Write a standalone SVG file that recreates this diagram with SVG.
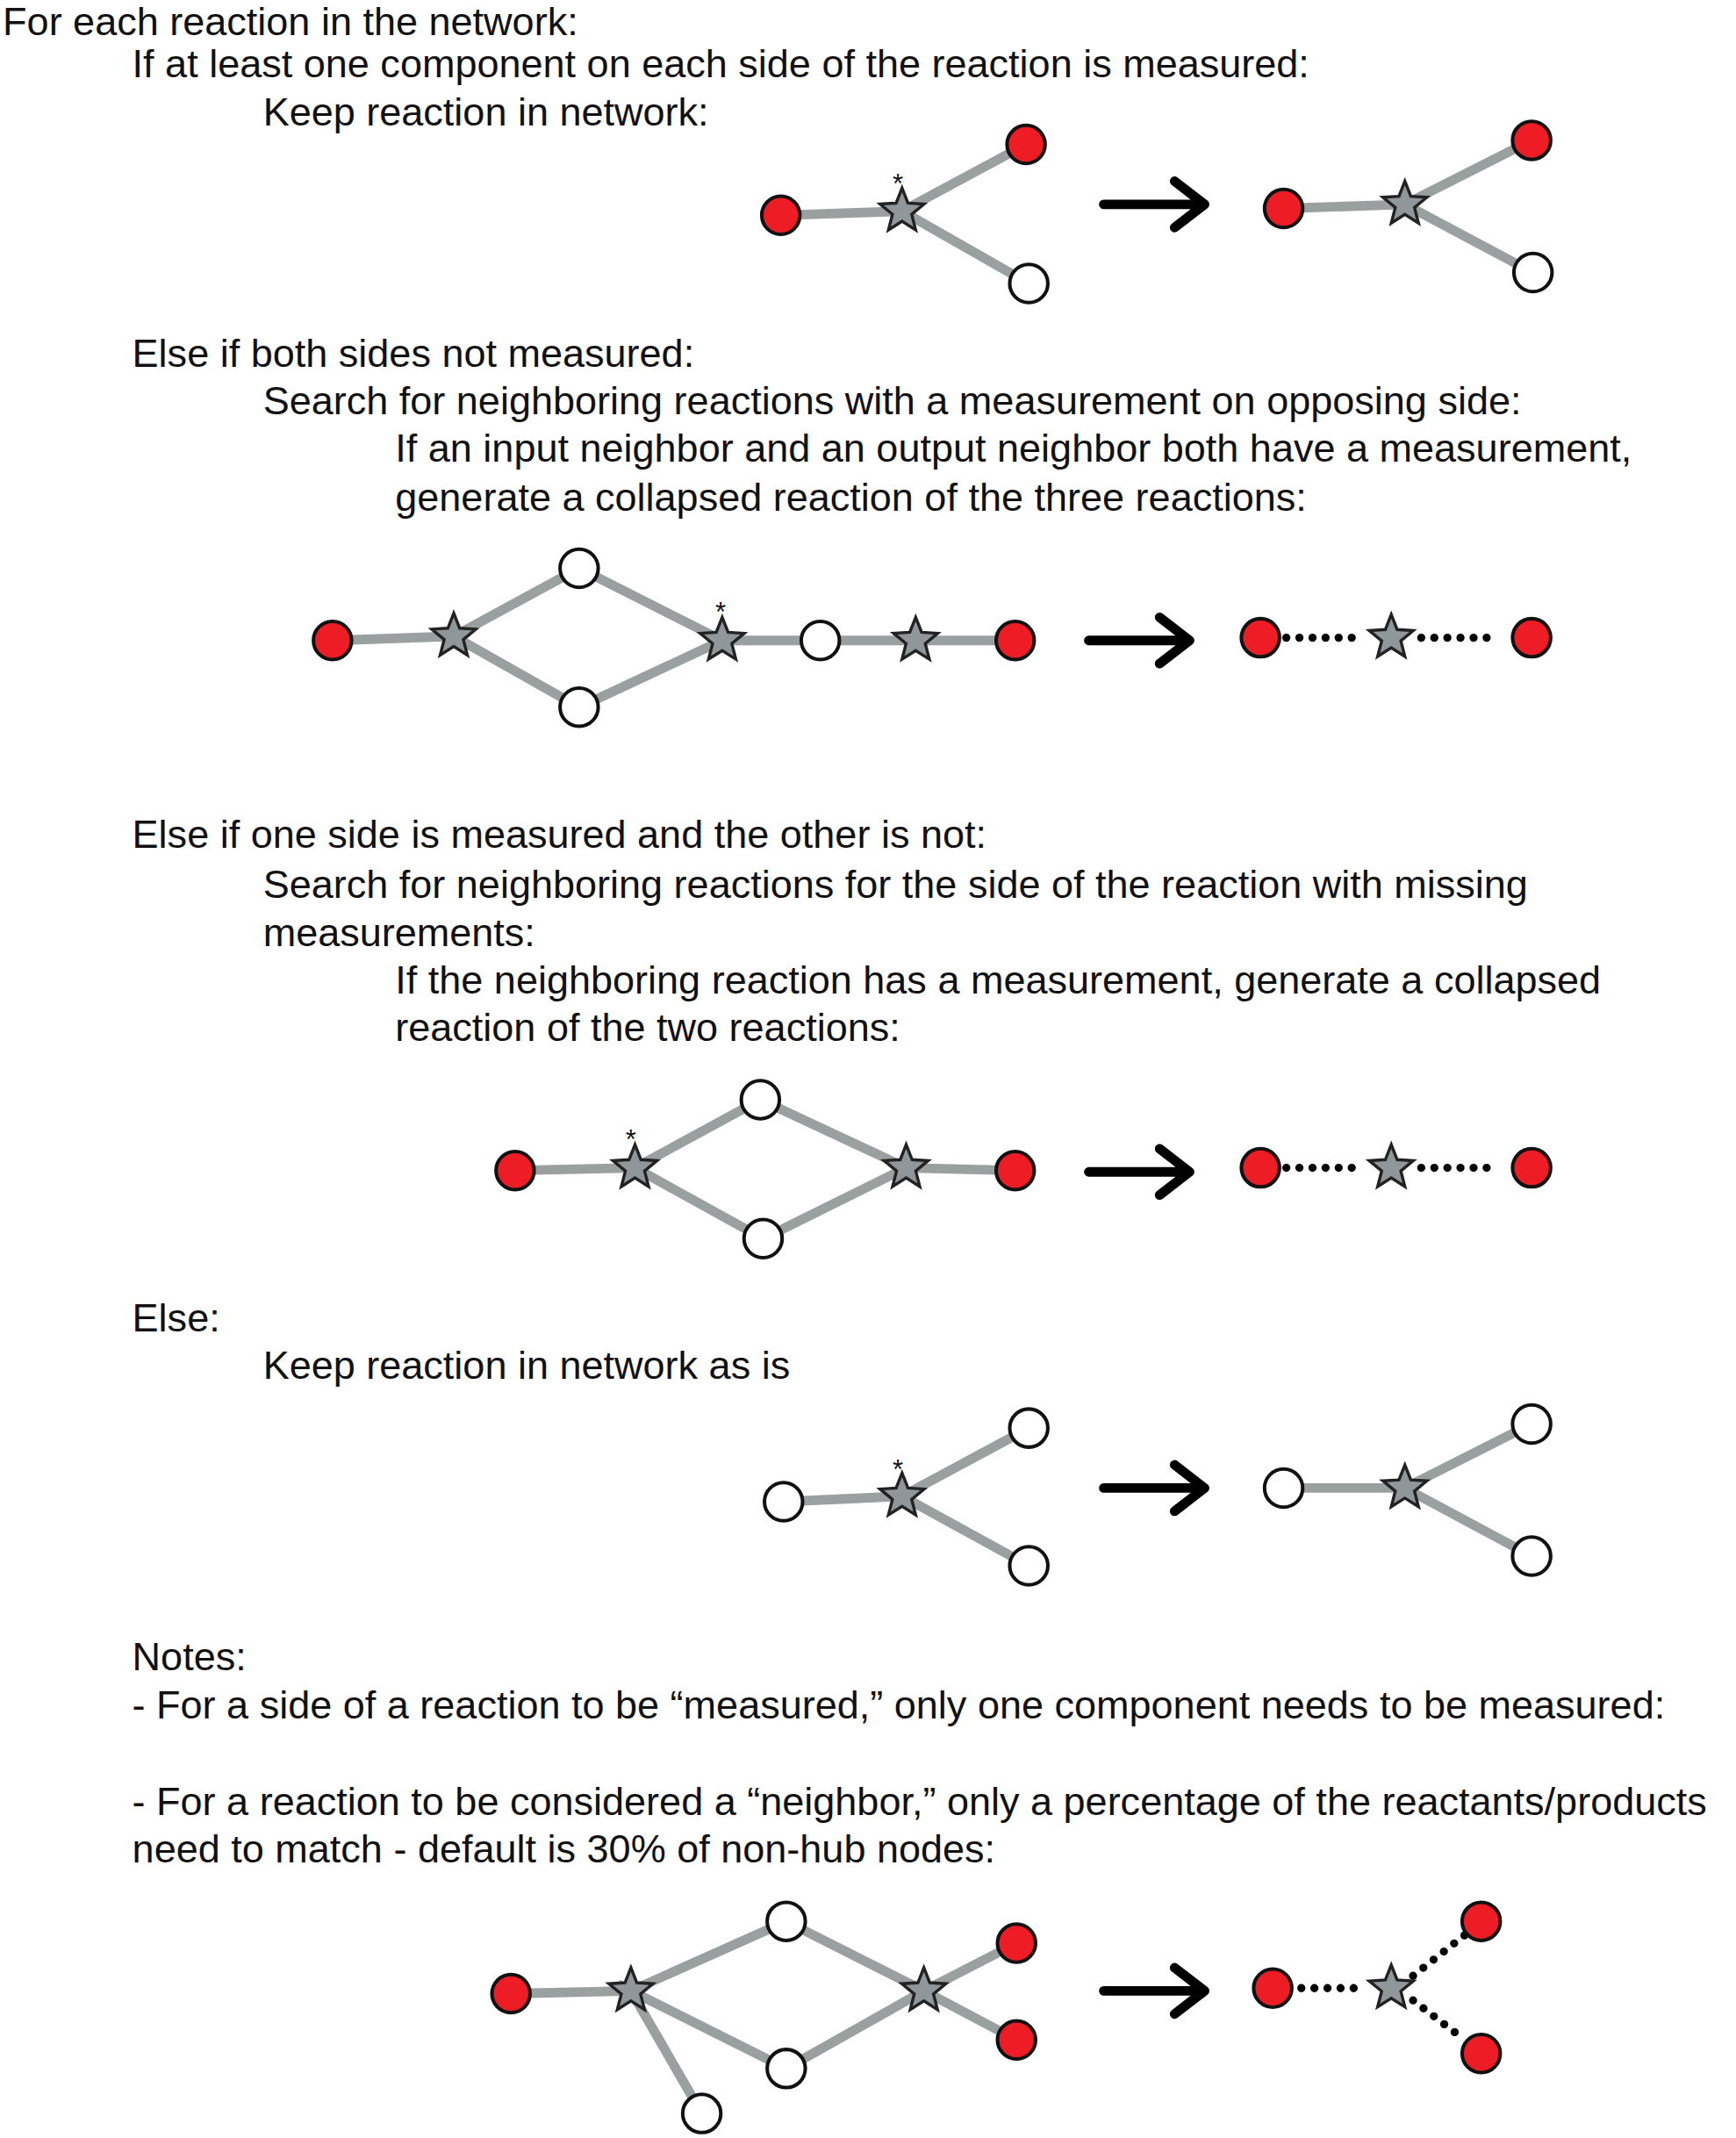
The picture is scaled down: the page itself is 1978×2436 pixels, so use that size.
<svg xmlns="http://www.w3.org/2000/svg" width="1978" height="2436" viewBox="0 0 1978 2436">
<defs>
<style>
text{font-family:"Liberation Sans",Arial,sans-serif;font-size:29px;fill:#111}
.e{stroke:#9a9fa0;stroke-width:7;fill:none}
.d{stroke:#000;stroke-width:6;stroke-linecap:round;stroke-dasharray:0 9.6;fill:none}
.r{fill:#ee1c25;stroke:#111;stroke-width:2.6}
.w{fill:#fff;stroke:#111;stroke-width:2.6}
.s{fill:#8f979b;stroke:#222;stroke-width:2.2;stroke-linejoin:miter}
.a{stroke:#000;stroke-width:7;fill:none;stroke-linecap:round;stroke-linejoin:round}
.ast{font-size:20px}
</style>
<path id="st" d="M0,-17 L4.35,-5.99 L16.17,-5.25 L7.04,2.29 L9.99,13.75 L0,7.4 L-9.99,13.75 L-7.04,2.29 L-16.17,-5.25 L-4.35,-5.99 Z"/>
</defs>
<rect width="1978" height="2436" fill="#fff"/>
<g transform="scale(1.5526)">
<g id="texts">
<text x="2" y="26">For each reaction in the network:</text>
<text x="97" y="57">If at least one component on each side of the reaction is measured:</text>
<text x="193" y="92">Keep reaction in network:</text>
<text x="97" y="269">Else if both sides not measured:</text>
<text x="193" y="304">Search for neighboring reactions with a measurement on opposing side:</text>
<text x="290" y="339">If an input neighbor and an output neighbor both have a measurement,</text>
<text x="290" y="375">generate a collapsed reaction of the three reactions:</text>
<text x="97" y="622">Else if one side is measured and the other is not:</text>
<text x="193" y="659">Search for neighboring reactions for the side of the reaction with missing</text>
<text x="193" y="694">measurements:</text>
<text x="290" y="729">If the neighboring reaction has a measurement, generate a collapsed</text>
<text x="290" y="764">reaction of the two reactions:</text>
<text x="97" y="977">Else:</text>
<text x="193" y="1012">Keep reaction in network as is</text>
<text x="97" y="1226">Notes:</text>
<text x="97" y="1261">- For a side of a reaction to be “measured,” only one component needs to be measured:</text>
<text x="97" y="1332">- For a reaction to be considered a “neighbor,” only a percentage of the reactants/products</text>
<text x="97" y="1367">need to match - default is 30% of non-hub nodes:</text>
</g>
<g id="connectors">
<path class="e" d="M573,158 L662,155 L753,106 M662,155 L755,208"/>
<path class="e" d="M942,153 L1031,150 L1124,103 M1031,150 L1125,200"/>
<path class="e" d="M244,470 L333,467 L425,417 L530,470 L425,519 L333,467 M530,470 L745,470"/>
<path class="d" d="M944,468 L1000,468 M1043,468 L1099,468"/>
<path class="e" d="M378,859 L466,857 L558,807 L665,857 L560,909 L466,857 M665,857 L745,859"/>
<path class="d" d="M944,857 L1000,857 M1043,857 L1099,857"/>
<path class="e" d="M575,1102 L662,1098 L755,1048 M662,1098 L755,1149"/>
<path class="e" d="M942,1092 L1031,1092 L1124,1045 M1031,1092 L1124,1142"/>
<path class="e" d="M375,1463 L463,1461 L577,1410 L678,1461 L577,1518 L463,1461 L515,1551 M678,1461 L746,1426 M678,1461 L746,1497"/>
<path class="d" d="M955,1459 L1002,1459 M1037,1450 L1075,1420 M1037,1468 L1075,1497"/>
<path class="a" d="M810,150 L884,150 M862,133 L884,150 L862,167"/>
<path class="a" d="M799,470 L873,470 M851,453 L873,470 L851,487"/>
<path class="a" d="M799,860 L873,860 M851,843 L873,860 L851,877"/>
<path class="a" d="M810,1092 L884,1092 M862,1075 L884,1092 L862,1109"/>
<path class="a" d="M810,1461 L884,1461 M862,1444 L884,1461 L862,1478"/>
</g>
<g id="n1"><circle class="r" cx="573" cy="158" r="14"/><use href="#st" class="s" x="662" y="155"/><text class="ast" x="655" y="142">*</text><circle class="r" cx="753" cy="106" r="14"/><circle class="w" cx="755" cy="208" r="14"/></g>
<g id="n1b"><circle class="r" cx="942" cy="153" r="14"/><use href="#st" class="s" x="1031" y="150"/><circle class="r" cx="1124" cy="103" r="14"/><circle class="w" cx="1125" cy="200" r="14"/></g>
<g id="n2"><circle class="r" cx="244" cy="470" r="14"/><use href="#st" class="s" x="333" y="467"/><circle class="w" cx="425" cy="417" r="14"/><circle class="w" cx="425" cy="519" r="14"/><use href="#st" class="s" x="530" y="470"/><text class="ast" x="525" y="456">*</text><circle class="w" cx="602" cy="470" r="14"/><use href="#st" class="s" x="672" y="470"/><circle class="r" cx="745" cy="470" r="14"/></g>
<g id="n2b"><circle class="r" cx="925" cy="468" r="14"/><use href="#st" class="s" x="1021" y="468"/><circle class="r" cx="1124" cy="468" r="14"/></g>
<g id="n3"><circle class="r" cx="378" cy="859" r="14"/><use href="#st" class="s" x="466" y="857"/><text class="ast" x="459" y="843">*</text><circle class="w" cx="558" cy="807" r="14"/><circle class="w" cx="560" cy="909" r="14"/><use href="#st" class="s" x="665" y="857"/><circle class="r" cx="745" cy="859" r="14"/></g>
<g id="n3b"><circle class="r" cx="925" cy="857" r="14"/><use href="#st" class="s" x="1021" y="857"/><circle class="r" cx="1124" cy="857" r="14"/></g>
<g id="n4"><circle class="w" cx="575" cy="1102" r="14"/><use href="#st" class="s" x="662" y="1098"/><text class="ast" x="655" y="1085">*</text><circle class="w" cx="755" cy="1048" r="14"/><circle class="w" cx="755" cy="1149" r="14"/></g>
<g id="n4b"><circle class="w" cx="942" cy="1092" r="14"/><use href="#st" class="s" x="1031" y="1092"/><circle class="w" cx="1124" cy="1045" r="14"/><circle class="w" cx="1124" cy="1142" r="14"/></g>
<g id="n5"><circle class="r" cx="375" cy="1463" r="14"/><use href="#st" class="s" x="463" y="1461"/><circle class="w" cx="577" cy="1410" r="14"/><circle class="w" cx="577" cy="1518" r="14"/><circle class="w" cx="515" cy="1551" r="14"/><use href="#st" class="s" x="678" y="1461"/><circle class="r" cx="746" cy="1426" r="14"/><circle class="r" cx="746" cy="1497" r="14"/></g>
<g id="n5b"><circle class="r" cx="934" cy="1459" r="14"/><use href="#st" class="s" x="1021" y="1459"/><circle class="r" cx="1087" cy="1410" r="14"/><circle class="r" cx="1087" cy="1507" r="14"/></g>
</g>
</svg>
